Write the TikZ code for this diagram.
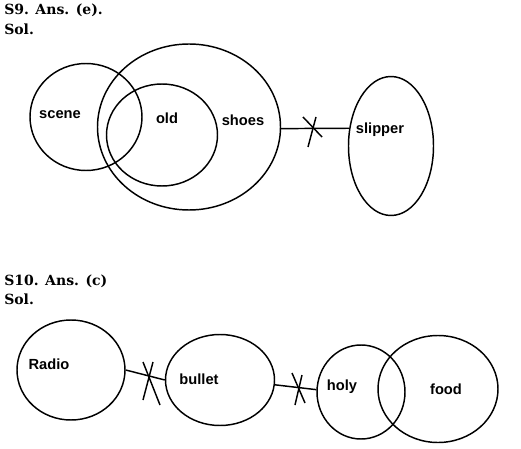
\documentclass[tikz,border=0pt]{standalone}
\usepackage{fontspec}
\setmainfont{DejaVu Serif}
\newfontfamily\lblfont{Liberation Sans}
\usetikzlibrary{shapes.geometric}
\begin{document}
\begin{tikzpicture}[x=0.75pt,y=-0.75pt,
  ring/.style={ellipse,draw,line width=1.1pt,inner sep=0pt,minimum width=#1},
  lbl/.style={font=\lblfont\bfseries\fontsize{11}{13}\selectfont,inner sep=0pt},
  head/.style={font=\bfseries\fontsize{10.5}{13}\selectfont,anchor=west,inner sep=0pt},
  link/.style={line width=1.1pt},
  cut/.style={line width=1.1pt}]
\useasboundingbox (0,0) rectangle (521,449);
% S9
\node[head] (h9) at (4,10) {S9. Ans. (e).};
\node[head] (s9) at (4,29) {Sol.};
\node[ring=112*0.75pt,minimum height=107*0.75pt] (scene) at (86,117) {};
\node[ring=183*0.75pt,minimum height=166*0.75pt] (shoes) at (189,127) {};
\node[ring=111*0.75pt,minimum height=102*0.75pt] (old) at (162,135) {};
\node[ring=85*0.75pt,minimum height=139*0.75pt] (slipper) at (391,146) {};
\node[lbl] (tscene) at (60,115) {scene};
\node[lbl] (told) at (167,118) {old};
\node[lbl] (tshoes) at (243,120) {shoes};
\node[lbl] (tslipper) at (380,130) {slipper};
\draw[link] (shoes.-1) -- (slipper.157);
\draw[cut] (303,117) -- (322,137);
\draw[cut] (308,147) -- (316,117);
% S10
\node[head] (h10) at (4,281) {S10. Ans. (c)};
\node[head] (s10) at (4,299) {Sol.};
\node[ring=108*0.75pt,minimum height=100*0.75pt] (radio) at (71,370) {};
\node[ring=109*0.75pt,minimum height=91*0.75pt] (bullet) at (220,380) {};
\node[ring=88*0.75pt,minimum height=94*0.75pt] (holy) at (361,392) {};
\node[ring=120*0.75pt,minimum height=107*0.75pt] (food) at (438,389) {};
\node[lbl] (tradio) at (49,364) {Radio};
\node[lbl] (tbullet) at (199,379) {bullet};
\node[lbl] (tholy) at (342,387) {holy};
\node[lbl] (tfood) at (446,389) {food};
\draw[link] (radio.east) -- (bullet.west);
\draw[cut] (143,362) -- (160,405);
\draw[cut] (153,362) -- (143,400);
\draw[link] (bullet.-5) -- (holy.177);
\draw[cut] (292,373) -- (305,403);
\draw[cut] (302,375) -- (295,405);
\end{tikzpicture}
\end{document}
